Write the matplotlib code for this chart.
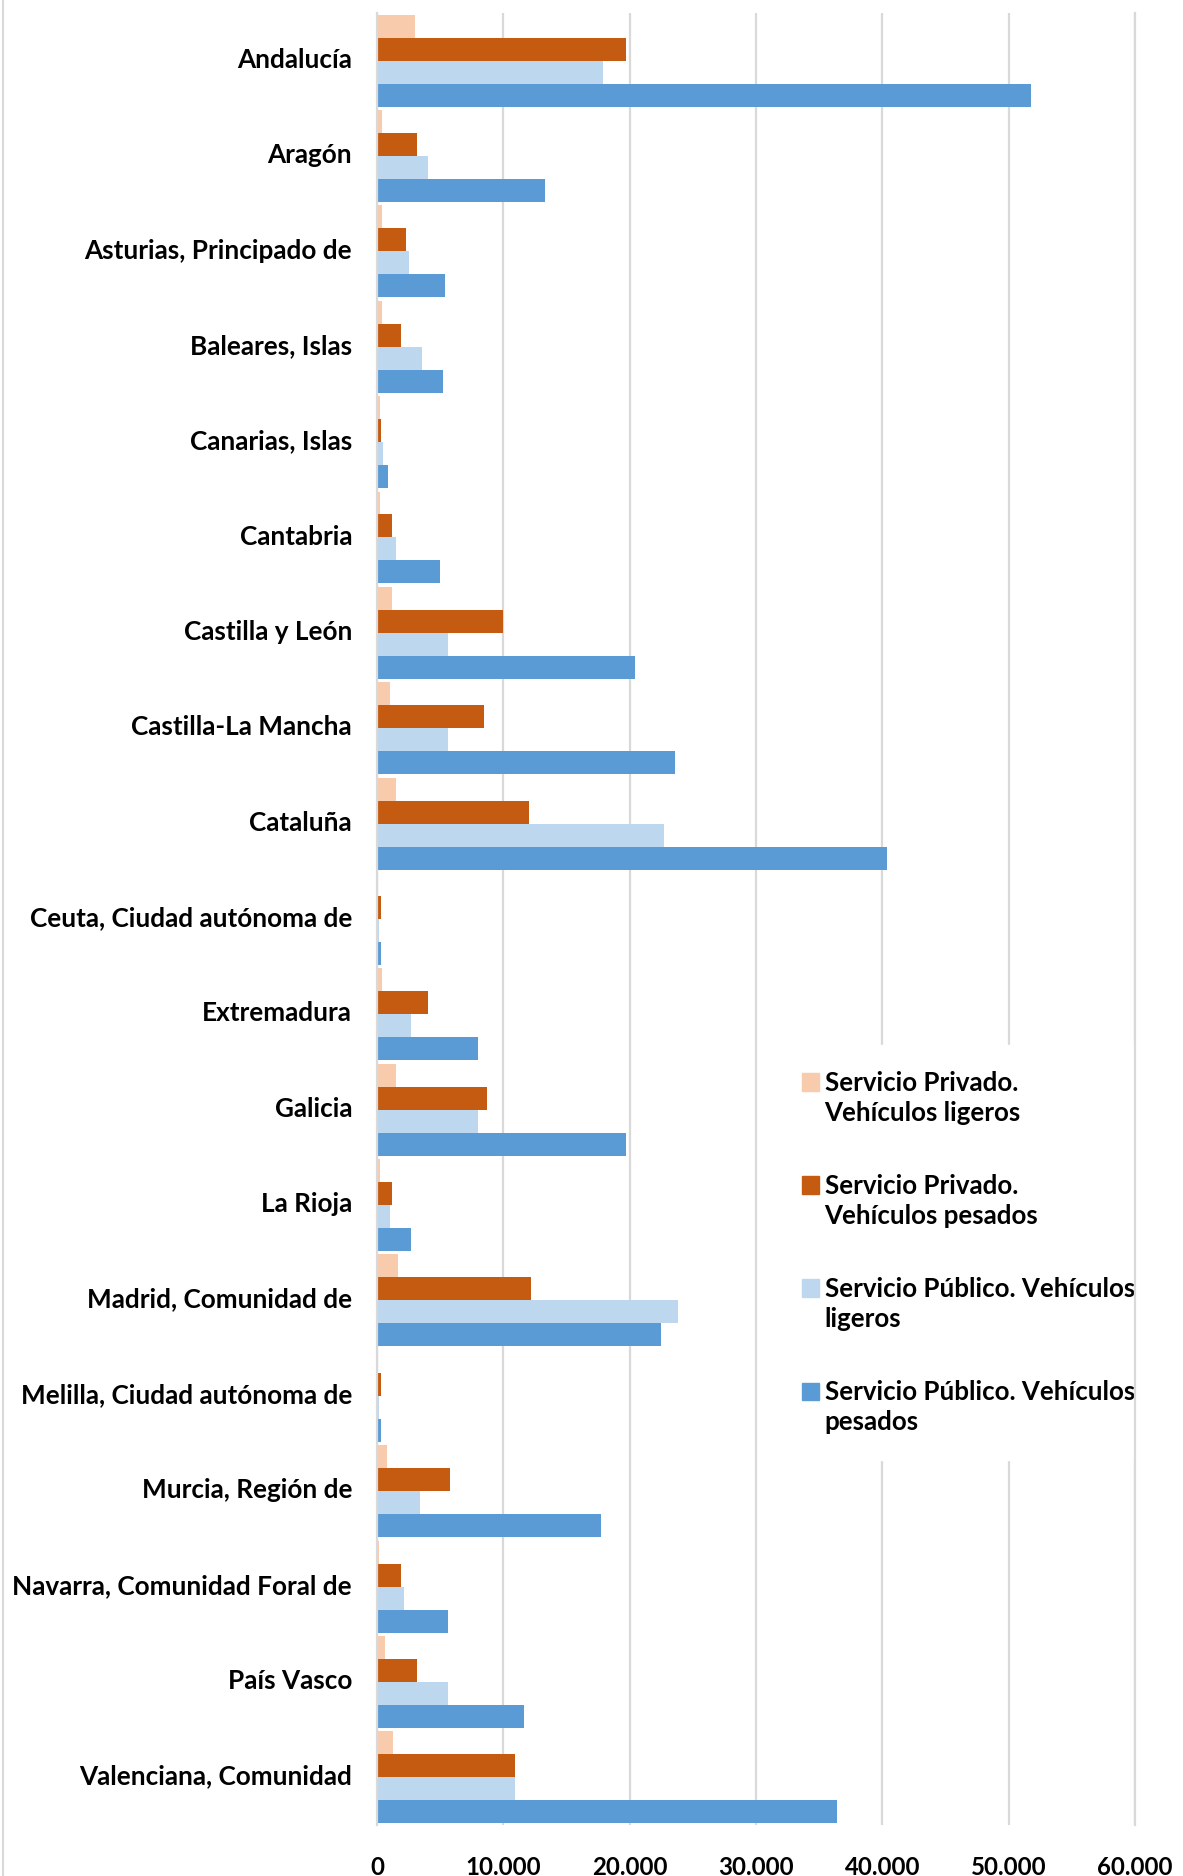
import matplotlib.pyplot as plt
from matplotlib.patches import Patch
from matplotlib.legend_handler import HandlerPatch
from matplotlib.lines import Line2D
from matplotlib.ticker import FuncFormatter

plt.rcParams['font.family'] = ['Lato', 'DejaVu Sans']
plt.rcParams['font.weight'] = 'bold'

# Comunidades autónomas
regiones = ['Andalucía', 'Aragón', 'Asturias, Principado de', 'Baleares, Islas',
            'Canarias, Islas', 'Cantabria', 'Castilla y León', 'Castilla-La Mancha',
            'Cataluña', 'Ceuta, Ciudad autónoma de', 'Extremadura', 'Galicia',
            'La Rioja', 'Madrid, Comunidad de', 'Melilla, Ciudad autónoma de',
            'Murcia, Región de', 'Navarra, Comunidad Foral de', 'País Vasco',
            'Valenciana, Comunidad']

priv_ligeros = [3000, 400, 400, 400, 200, 200, 1200, 1000, 1500, 100, 400, 1500,
                200, 1700, 100, 800, 150, 600, 1300]
priv_pesados = [19700, 3200, 2300, 1900, 300, 1200, 10000, 8500, 12000, 300, 4000, 8700,
                1200, 12200, 300, 5800, 1900, 3200, 10900]
pub_ligeros = [17900, 4000, 2500, 3600, 500, 1500, 5600, 5600, 22700, 150, 2700, 8000,
               1000, 23800, 150, 3400, 2100, 5600, 10900]
pub_pesados = [51800, 13300, 5400, 5200, 850, 5000, 20400, 23600, 40400, 300, 8000, 19700,
               2700, 22500, 300, 17700, 5600, 11600, 36400]

series = [priv_ligeros, priv_pesados, pub_ligeros, pub_pesados]
etiquetas = ['Servicio Privado.\nVehículos ligeros',
             'Servicio Privado.\nVehículos pesados',
             'Servicio Público. Vehículos\nligeros',
             'Servicio Público. Vehículos\npesados']
colores = ['#F8CBAD', '#C55A11', '#BDD7EE', '#5B9BD5']

fig = plt.figure(figsize=(11.83, 18.76), dpi=100)
ax = fig.add_axes([0.3187, 0.0272, 0.9594 - 0.3187, 0.9931 - 0.0272])

h = 0.241
offsets = [-1.5 * h, -0.5 * h, 0.5 * h, 1.5 * h]
y = list(range(len(regiones)))
for vals, off, col in zip(series, offsets, colores):
    ax.barh([i + off for i in y], vals, height=h, color=col, zorder=3)

ax.set_xlim(0, 60000)
ax.set_ylim(len(regiones) - 0.5, -0.5)
ax.set_yticks([i - 0.03 for i in y])
ax.set_yticklabels(regiones, fontsize=18.8, fontweight='bold')
ax.set_xticks(range(0, 60001, 10000))
ax.xaxis.set_major_formatter(FuncFormatter(lambda v, p: f'{int(v):,}'.replace(',', '.')))
ax.tick_params(axis='x', length=0, pad=22, labelsize=17.3)
ax.tick_params(axis='y', length=0, pad=18)
ax.grid(axis='x', color='#D9D9D9', linewidth=1.6, zorder=0)

for s in ['top', 'bottom']:
    ax.spines[s].set_visible(False)
ax.spines['left'].set_color('#D9D9D9')
ax.spines['left'].set_linewidth(1.6)
ax.spines['left'].set_zorder(4)
ax.spines['right'].set_color('#D9D9D9')
ax.spines['right'].set_linewidth(1.6)
ax.spines['right'].set_zorder(6)


class TopHandler(HandlerPatch):
    # keep the square next to the first line of the label
    def create_artists(self, legend, orig_handle, xdescent, ydescent, width, height,
                       fontsize, trans):
        arts = super().create_artists(legend, orig_handle, xdescent, ydescent,
                                      width, height, fontsize, trans)
        for a in arts:
            a.set_y(a.get_y() + 0.65 * fontsize)
        return arts


handles = [Patch(color=c) for c in colores]
leg = ax.legend(handles, etiquetas, loc='upper left', bbox_to_anchor=(776 / 1183, 1 - 1045 / 1876),
                bbox_transform=fig.transFigure, frameon=True, fancybox=False,
                edgecolor='white', facecolor='white', framealpha=1,
                prop={'family': ['Lato', 'DejaVu Sans'], 'weight': 'bold', 'size': 18.6},
                handlelength=0.66, handleheight=0.66, handletextpad=0.22,
                labelspacing=1.9, borderpad=1.0, borderaxespad=0,
                handler_map={Patch: TopHandler()})
for t in leg.get_texts():
    t.set_linespacing(1.3)

# thin border at the left edge of the chart
fig.add_artist(Line2D([3 / 1183, 3 / 1183], [0, 1], transform=fig.transFigure,
                      color='#D9D9D9', linewidth=1.5))

fig.savefig('out.png', dpi=100)
